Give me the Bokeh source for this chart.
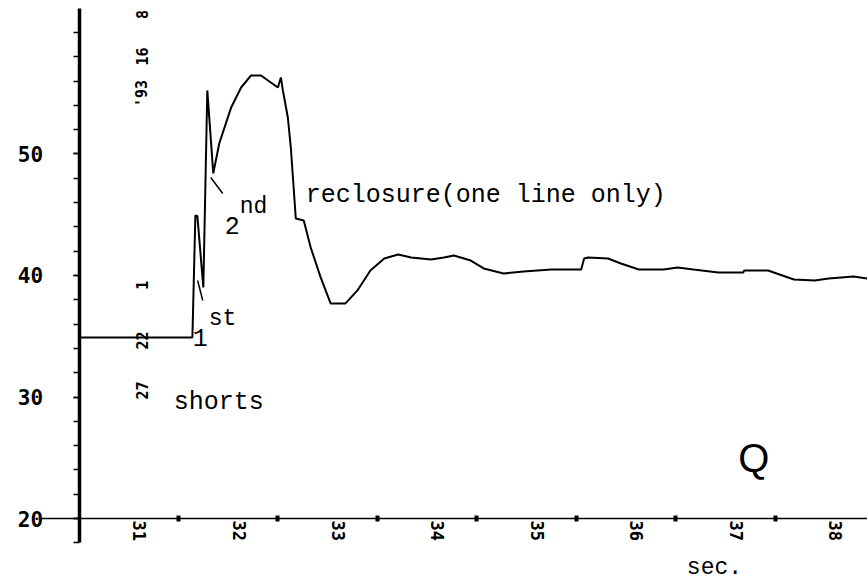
from math import pi
from bokeh.plotting import figure
from bokeh.models import LinearAxis, FixedTicker, Range1d, Label
from bokeh.embed import file_html
from bokeh.resources import INLINE

# ---- data (time in seconds, value) ----
time_s = [30.39, 31.53, 31.56, 31.58, 31.64, 31.68, 31.74, 31.80, 31.92, 32.02,
          32.12, 32.22, 32.39, 32.42, 32.44, 32.49, 32.52, 32.57, 32.65, 32.72,
          32.82, 32.92, 33.07, 33.19, 33.32, 33.46, 33.60, 33.73, 33.93, 34.06,
          34.16, 34.33, 34.46, 34.66, 34.86, 35.14, 35.44, 35.47, 35.51, 35.71,
          35.84, 36.02, 36.27, 36.41, 36.57, 36.82, 37.07, 37.08, 37.32, 37.58,
          37.79, 37.93, 38.18, 38.32]
value = [34.90, 34.90, 44.94, 44.90, 39.01, 55.23, 48.40, 50.86, 53.83, 55.47,
         56.46, 56.46, 55.47, 56.30, 55.23, 53.00, 50.53, 44.69, 44.53, 42.30,
         39.84, 37.70, 37.70, 38.77, 40.41, 41.40, 41.73, 41.48, 41.32, 41.48,
         41.65, 41.23, 40.58, 40.16, 40.33, 40.49, 40.49, 41.40, 41.48, 41.40,
         40.99, 40.49, 40.49, 40.66, 40.49, 40.25, 40.25, 40.41, 40.41, 39.67,
         39.59, 39.75, 39.92, 39.75]

x_tick_secs = [31, 32, 33, 34, 35, 36, 37, 38]
x_mark_secs = [31.39, 32.39, 33.39, 34.39, 35.39, 36.39, 37.39]
y_ticks = [20, 30, 40, 50]
y_minor = [18, 20, 22, 24, 26, 28, 30, 32, 34, 36, 38, 40, 42, 44, 46, 48, 50,
           52, 54, 56, 58, 60]
y_axis_at = 30.39
x_axis_at = 20
x_axis_span = (30.0, 38.32)
y_axis_span = (18.02, 61.98)

MONO = "Liberation Mono"

p = figure(width=867, height=584, output_backend="svg", toolbar_location=None,
           x_axis_type=None, y_axis_type=None,
           x_range=Range1d(29.60, 38.32), y_range=Range1d(14.57, 62.63),
           min_border_left=0, min_border_right=0, min_border_top=0, min_border_bottom=0)
p.outline_line_color = None
p.background_fill_color = "white"
p.border_fill_color = "white"

# x axis with rotated labels
xa = LinearAxis(fixed_location=x_axis_at, bounds=x_axis_span,
                ticker=FixedTicker(ticks=x_tick_secs),
                major_tick_in=0, major_tick_out=0, minor_tick_in=0, minor_tick_out=0,
                major_label_orientation="vertical", major_label_standoff=2,
                major_label_text_font="DejaVu Sans Mono", major_label_text_font_style="bold",
                major_label_text_font_size="17px", major_label_text_color="black",
                axis_line_color="black", axis_line_width=1.5)
p.add_layout(xa, "below")

# blob tick marks along the x axis
ma = LinearAxis(fixed_location=x_axis_at, bounds=x_axis_span,
                ticker=FixedTicker(ticks=x_mark_secs),
                major_tick_in=3, major_tick_out=3, major_tick_line_width=4,
                major_tick_line_color="black",
                minor_tick_in=0, minor_tick_out=0, major_label_text_alpha=0,
                axis_line_color=None)
p.add_layout(ma, "below")

# y axis
ya = LinearAxis(fixed_location=y_axis_at, bounds=y_axis_span,
                ticker=FixedTicker(ticks=y_ticks, minor_ticks=y_minor),
                major_tick_in=0, major_tick_out=6, minor_tick_in=0, minor_tick_out=6,
                major_tick_line_width=1.5, minor_tick_line_width=1.5,
                major_label_standoff=30,
                major_label_text_font="DejaVu Sans Mono", major_label_text_font_style="bold",
                major_label_text_font_size="21px", major_label_text_color="black",
                axis_line_color="black", axis_line_width=3.5)
p.add_layout(ya, "left")

p.line(time_s, value, line_color="black", line_width=2)

# pointer strokes for the annotations
p.segment(x0=[31.583, 31.714], y0=[39.59, 48.07], x1=[31.634, 31.835], y1=[37.94, 46.75],
          line_color="black", line_width=1.5)

def lab(txt, x, y, size="25px", font=MONO, **kw):
    p.add_layout(Label(x=x, y=y, text=txt, text_font=font, text_font_size=size,
                       text_color="black", text_baseline=kw.pop("baseline", "alphabetic"),
                       text_align=kw.pop("align", "left"), **kw))

lab("reclosure(one line only)", 32.67, 46.58)
lab("shorts", 31.342, 29.55)
lab("1", 31.533, 34.90)
lab("st", 31.694, 36.46, size="23px")
lab("2", 31.855, 44.12)
lab("nd", 32.006, 45.60, size="23px")
lab("Q", 37.02, 24.94, size="40px", font="Liberation Sans")
lab("sec.", 36.503, 15.9, size="23px")

# vertical stamp marks
for txt, yv in [("8", 61.48), ("16", 58.02), ("'93", 54.98), ("1", 39.2), ("22", 34.65), ("27", 30.53)]:
    lab(txt, 31.02, yv, size="15px", font="DejaVu Sans Mono", angle=pi / 2,
        align="center", baseline="middle", text_font_style="bold")

open("out.html", "w").write(file_html(p, INLINE))
